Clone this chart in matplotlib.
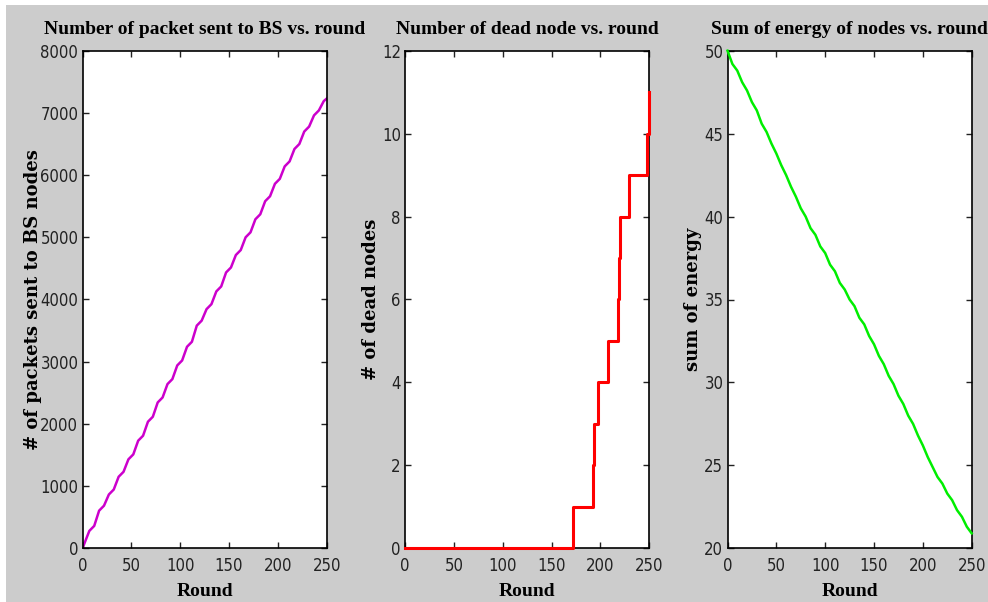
import matplotlib
matplotlib.use('Agg')
import matplotlib.pyplot as plt
from matplotlib import font_manager
from matplotlib.patches import Rectangle


# packets sent to BS (start/end of the flat bit of each 10-round epoch)
packet_rounds = [0, 7, 12, 17, 22, 27, 32, 37, 42, 47, 52, 57, 62, 67, 72, 77, 82,
                 87, 92, 97, 102, 107, 112, 117, 122, 127, 132, 137, 142, 147, 152,
                 157, 162, 167, 172, 177, 182, 187, 192, 197, 202, 207, 212, 217,
                 222, 227, 232, 237, 242, 247, 250]
packet_values = [0, 280, 360, 605, 685, 865, 945, 1150, 1230, 1430, 1510, 1730, 1810,
                 2035, 2115, 2345, 2425, 2640, 2720, 2940, 3020, 3240, 3320, 3580,
                 3660, 3845, 3925, 4130, 4210, 4435, 4515, 4715, 4795, 5000, 5080,
                 5290, 5370, 5580, 5660, 5860, 5940, 6140, 6220, 6420, 6500, 6700,
                 6780, 6960, 7040, 7190, 7230]

# dead nodes (step changes)
dead_rounds = [0, 172, 192, 194, 198, 208, 218, 219, 220, 229, 248, 250]
dead_counts = [0, 1, 2, 3, 4, 5, 6, 7, 8, 9, 10, 11]

# total residual energy, every 5 rounds
energy_rounds = list(range(0, 251, 5))
energy_values = [50.0, 49.2, 48.8, 48.1, 47.6, 46.9, 46.4, 45.6, 45.1, 44.4, 43.8,
                 43.1, 42.5, 41.8, 41.2, 40.5, 40.0, 39.3, 38.9, 38.2, 37.8, 37.1,
                 36.7, 36.0, 35.6, 35.0, 34.6, 33.9, 33.5, 32.8, 32.3, 31.6, 31.1,
                 30.4, 29.9, 29.2, 28.7, 28.0, 27.5, 26.8, 26.2, 25.5, 24.9, 24.3,
                 23.9, 23.3, 22.9, 22.3, 21.9, 21.3, 20.9]

x_ticks = [0, 50, 100, 150, 200, 250]

serif = ['Liberation Serif', 'DejaVu Serif']


# narrow sans for the tick numbers, if one is around
def narrow_font(size):
    for f in font_manager.fontManager.ttflist:
        fn = f.fname.lower()
        if ('narrow' in fn or 'condensed' in fn) and ('liberation' in fn or 'dejavusans' in fn) \
                and 'bold' not in fn and 'oblique' not in fn and 'italic' not in fn \
                and 'mono' not in fn and 'serif' not in fn:
            return font_manager.FontProperties(fname=f.fname, size=size)
    return font_manager.FontProperties(family='Liberation Sans', size=size - 1)


tick_font = narrow_font(12)

W, H = 988, 602
fig = plt.figure(figsize=(W / 100, H / 100), dpi=100, facecolor='white')
fig.patches.append(Rectangle((6 / W, 0), 1, (H - 5) / H, transform=fig.transFigure,
                             facecolor='#cccccc', edgecolor='none', zorder=-1))

AX_W = 244.2


def make_axes(left_px):
    top_px, bottom_px = 50.7, 548.3
    ax = fig.add_axes([left_px / W, (H - bottom_px) / H,
                       AX_W / W, (bottom_px - top_px) / H])
    ax.set_facecolor('white')
    for s in ax.spines.values():
        s.set_linewidth(1.2)
        s.set_color('black')
    ax.tick_params(direction='in', length=4, width=1.0, top=True, right=True,
                   colors='#222222')
    ax.tick_params(axis='x', pad=6)
    ax.tick_params(axis='y', pad=3)
    ax.set_xlim(0, 250)
    return ax


def decorate(ax, left_px, title, ylabel, ylabel_px):
    ax.set_xticks(x_ticks)
    for lab in ax.get_xticklabels() + ax.get_yticklabels():
        lab.set_fontproperties(tick_font)
        lab.set_color('#222222')
    ax.set_title(title, family=serif, fontweight='bold', fontsize=14, pad=12)
    ax.set_xlabel('Round', family=serif, fontweight='bold', fontsize=14, labelpad=6)
    ax.set_ylabel(ylabel, family='DejaVu Serif', fontweight='bold', fontsize=13)
    ax.yaxis.set_label_coords((ylabel_px - left_px) / AX_W, 0.5)


ax1 = make_axes(82.5)
ax1.plot(packet_rounds, packet_values, color='#cc00cc', lw=1.8)
ax1.set_ylim(0, 8000)
ax1.set_yticks(range(0, 8001, 1000))
decorate(ax1, 82.5, 'Number of packet sent to BS vs. round',
         '# of packets sent to BS nodes', 42)

ax2 = make_axes(405)
ax2.plot(dead_rounds, dead_counts, color='#ff0000', lw=2.2, drawstyle='steps-post',
         clip_on=False, zorder=3)
ax2.set_ylim(0, 12)
ax2.set_yticks(range(0, 13, 2))
decorate(ax2, 405, 'Number of dead node vs. round', '# of dead nodes', 380)

ax3 = make_axes(727.5)
ax3.plot(energy_rounds, energy_values, color='#00ee00', lw=1.8, clip_on=False, zorder=3)
ax3.set_ylim(20, 50)
ax3.set_yticks(range(20, 51, 5))
decorate(ax3, 727.5, 'Sum of energy of nodes vs. round', 'sum of energy', 702)

fig.savefig('out.png', dpi=100, facecolor=fig.get_facecolor())
